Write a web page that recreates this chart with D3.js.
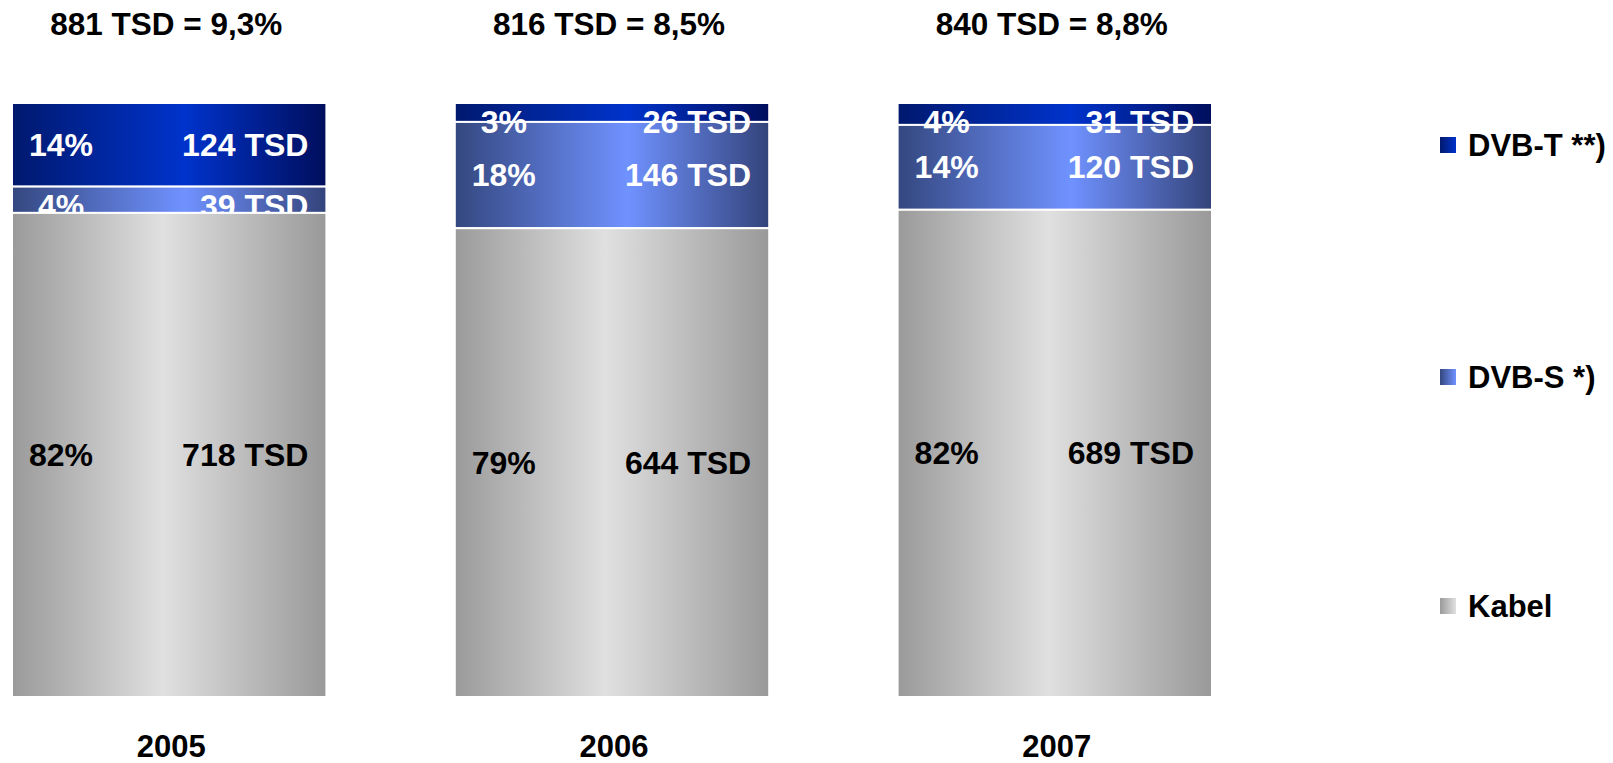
<!DOCTYPE html>
<html>
<head>
<meta charset="utf-8">
<script src="https://cdn.jsdelivr.net/npm/d3@7"></script>
<style>
  body { margin: 0; background: #fff; }
  svg text { font-family: "Liberation Sans", Arial, sans-serif; font-weight: bold; }
</style>
</head>
<body>
<svg id="chart" width="1613" height="763"></svg>
<script>
var years = ['2005', '2006', '2007'];
var series = ['Kabel', 'DVB-S', 'DVB-T'];
var legendLabels = ['DVB-T **)', 'DVB-S *)', 'Kabel'];

// TSD values per year
var kabel = [718, 644, 689];
var dvbS = [39, 146, 120];
var dvbT = [124, 26, 31];

// shares as printed on the chart
var kabelPct = [82, 79, 82];
var dvbSPct = [4, 18, 14];
var dvbTPct = [14, 3, 4];

var totals = [881, 816, 840];
var totalShare = ['9,3', '8,5', '8,8'];

var data = years.map(function(y, i) {
  return {
    year: y,
    'Kabel': kabel[i], 'DVB-S': dvbS[i], 'DVB-T': dvbT[i],
    pct: { 'Kabel': kabelPct[i], 'DVB-S': dvbSPct[i], 'DVB-T': dvbTPct[i] }
  };
});

var svg = d3.select('#chart');

var x = d3.scaleBand().domain(years).range([12, 1212]).paddingInner(0.29).paddingOuter(0);
var y = d3.scaleLinear().domain([0, 1]).range([697, 103]);

var colors = {
  'DVB-T': ['#00196e', '#0033cc', '#000e5c'],
  'DVB-S': ['#34477f', '#7092ff', '#33437a'],
  'Kabel': ['#9a9a9a', '#e0e0e0', '#999999']
};
var textColor = { 'DVB-T': '#fff', 'DVB-S': '#fff', 'Kabel': '#000' };

var defs = svg.append('defs');
series.forEach(function(s, k) {
  var g = defs.append('linearGradient').attr('id', 'grad' + k)
    .attr('x1', 0).attr('x2', 1).attr('y1', 0).attr('y2', 0);
  g.append('stop').attr('offset', '0%').attr('stop-color', colors[s][0]);
  g.append('stop').attr('offset', s === 'Kabel' ? '48%' : '55%').attr('stop-color', colors[s][1]);
  g.append('stop').attr('offset', '100%').attr('stop-color', colors[s][2]);

  var lg = defs.append('linearGradient').attr('id', 'lgrad' + k)
    .attr('x1', 0).attr('x2', 1).attr('y1', 0).attr('y2', 0);
  lg.append('stop').attr('offset', '0%').attr('stop-color', colors[s][0]);
  lg.append('stop').attr('offset', '100%').attr('stop-color', colors[s][1]);
});

var stacked = d3.stack().keys(series).offset(d3.stackOffsetExpand)(data);

function drawRects(layer, k) {
  svg.append('g').selectAll('rect')
    .data(layer)
    .join('rect')
    .attr('x', function(d) { return x(d.data.year); })
    .attr('y', function(d) { return y(d[1]); })
    .attr('width', x.bandwidth())
    .attr('height', function(d) { return y(d[0]) - y(d[1]); })
    .attr('fill', 'url(#grad' + k + ')')
    .attr('stroke', '#fff')
    .attr('stroke-width', 2);
}

function labelY(d) {
  var mid = (y(d[0]) + y(d[1])) / 2 + 11;
  return Math.max(mid, y(d[1]) + 30);
}

function drawLabels(layer, s) {
  var g = svg.append('g').attr('font-size', 32).attr('fill', textColor[s]);
  g.selectAll('text.pct')
    .data(layer)
    .join('text')
    .attr('class', 'pct')
    .attr('x', function(d) { return x(d.data.year) + 49; })
    .attr('y', labelY)
    .attr('text-anchor', 'middle')
    .text(function(d) { return d.data.pct[s] + '%'; });
  g.selectAll('text.tsd')
    .data(layer)
    .join('text')
    .attr('class', 'tsd')
    .attr('x', function(d) { return x(d.data.year) + x.bandwidth() - 18; })
    .attr('y', labelY)
    .attr('text-anchor', 'end')
    .text(function(d) { return d.data[s] + ' TSD'; });
}

// blue segments first, then their labels, then Kabel on top (it clips the small labels)
drawRects(stacked[2], 2);
drawRects(stacked[1], 1);
drawLabels(stacked[2], 'DVB-T');
drawLabels(stacked[1], 'DVB-S');
drawRects(stacked[0], 0);
drawLabels(stacked[0], 'Kabel');

// totals above bars
svg.append('g').selectAll('text')
  .data(years)
  .join('text')
  .attr('x', function(d) { return x(d) + x.bandwidth() / 2 - 3; })
  .attr('y', 35)
  .attr('text-anchor', 'middle')
  .attr('font-size', 31.5)
  .text(function(d, i) { return totals[i] + ' TSD = ' + totalShare[i] + '%'; });

// year labels
svg.append('g').selectAll('text')
  .data(years)
  .join('text')
  .attr('x', function(d) { return x(d) + x.bandwidth() / 2 + 2; })
  .attr('y', 757)
  .attr('text-anchor', 'middle')
  .attr('font-size', 31)
  .text(function(d) { return d; });

// legend
var legendY = [145, 377, 606];
var legend = svg.append('g').selectAll('g')
  .data(legendLabels)
  .join('g')
  .attr('transform', function(d, i) { return 'translate(1440,' + legendY[i] + ')'; });
legend.append('rect')
  .attr('x', 0).attr('y', -8).attr('width', 16).attr('height', 16)
  .attr('fill', function(d, i) { return 'url(#lgrad' + (2 - i) + ')'; });
legend.append('text')
  .attr('x', 28).attr('y', 11)
  .attr('font-size', 31)
  .text(function(d) { return d; });
</script>
</body>
</html>
